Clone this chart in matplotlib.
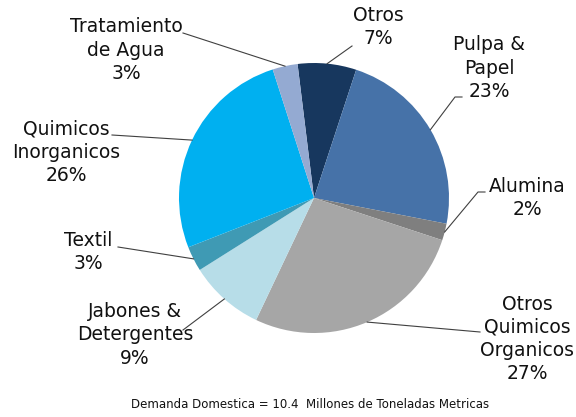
import matplotlib.pyplot as plt
import numpy as np

labels = ['Otros', 'Pulpa &\nPapel', 'Alumina', 'Otros\nQuimicos\nOrganicos',
          'Jabones &\nDetergentes', 'Textil', 'Quimicos\nInorganicos', 'Tratamiento\nde Agua']
values = [7, 23, 2, 27, 9, 3, 26, 3]
colors = ['#17375E', '#4672A8', '#7F7F7F', '#A6A6A6',
          '#B7DDE8', '#3F9AB4', '#00B0F0', '#94AAD2']

W, H = 576, 417

def px(x, y):
    # pixel coords (y down) -> data coords (y up)
    return x, H - y

# label centers and leader start points (pixels)
label_pos = [(378, 27), (489, 68), (527, 198), (527, 339),
             (135, 335), (88, 252), (66, 152), (126, 50)]
leader_pts = [[(352, 46)], [(462, 97), (455, 97)], [(485, 192), (478, 192)], [(480, 332)],
              [(183, 330)], [(118, 247)], [(112, 135)], [(183, 33)]]

fig = plt.figure(figsize=(W / 100, H / 100), dpi=100)
ax = fig.add_axes([0, 0, 1, 1])

cx, cy = px(314, 198)
r = 135
wedges, _ = ax.pie(values, colors=colors, startangle=97, counterclock=False,
                   center=(cx, cy), radius=r, wedgeprops=dict(linewidth=0),
                   frame=True)
ax.set_xlim(0, W)
ax.set_ylim(0, H)
ax.axis('off')

for w, lab, v, pos, pts in zip(wedges, labels, values, label_pos, leader_pts):
    ax.text(*px(*pos), '%s\n%d%%' % (lab, v), ha='center', va='center',
            fontsize=13.5, color='#111111', linespacing=1.27)
    # leader line ends on the wedge edge at its middle angle
    mid = np.deg2rad((w.theta1 + w.theta2) / 2)
    ex, ey = cx + r * np.cos(mid), cy + r * np.sin(mid)
    xs = [p[0] for p in pts] + [ex]
    ys = [H - p[1] for p in pts] + [ey]
    ax.plot(xs, ys, color='#404040', lw=0.8)

ax.text(*px(310, 404), 'Demanda Domestica = 10.4  Millones de Toneladas Metricas',
        ha='center', va='center', fontsize=8.5, color='#111111')

fig.savefig('out.png', dpi=100)
